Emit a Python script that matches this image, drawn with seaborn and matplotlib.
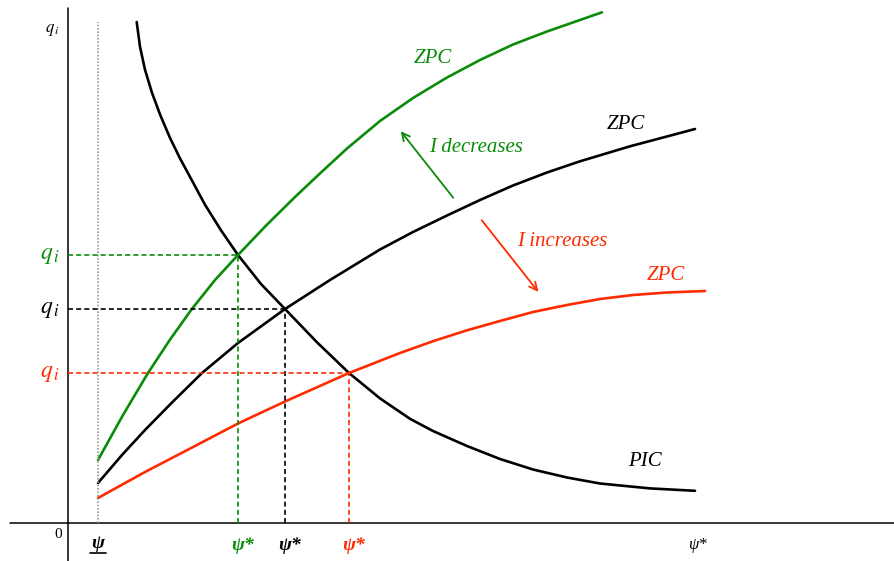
import matplotlib
matplotlib.use("Agg")
import matplotlib.pyplot as plt
import seaborn as sns
import pandas as pd

# Curves of the model (psi on the horizontal axis, q_i on the vertical axis)
pic_psi = [68.7, 72, 77, 84, 92, 102, 112, 124, 137, 153, 170, 193, 217, 249, 281,
           312, 342, 365, 399, 432, 465, 499, 532, 582, 627]
pic_q = [501, 476.3, 453.3, 430.2, 408.6, 385.1, 364.6, 342.4, 318.3, 292.7, 268, 239, 214, 180.7, 150,
         124.6, 104.2, 92, 77, 64, 53.5, 45.5, 39.5, 34.6, 32.2]

zpc_low_psi = [30, 55, 80, 102, 124, 147, 170, 198, 227, 253, 279, 312, 345, 379, 412, 445, 479, 534]
zpc_low_q = [63, 108, 150, 183.4, 214.2, 243, 268, 297.4, 326, 350.5, 374.5, 402, 425, 445.5, 463, 478.5, 491.5, 510.7]

zpc_base_psi = [30, 54, 77, 104, 134, 170, 217, 262, 312, 345, 379, 412, 445, 479, 512, 562, 612, 627]
zpc_base_q = [40, 68, 93, 120.5, 150, 180, 214, 243, 273.5, 291, 307.5, 323, 337.5, 350.5, 361.7, 376.7, 390, 394]

zpc_high_psi = [30, 77, 127, 170, 217, 281, 332, 365, 399, 432, 465, 499, 532, 565, 599, 637]
zpc_high_q = [25, 51, 77, 99.5, 121.5, 150, 170, 181.8, 192.7, 202, 211, 218, 224, 228, 230.5, 232]

# Equilibria: I decreases / baseline / I increases
eq_psi = [170, 217, 281]
eq_q = [268, 214, 150]
psi_min = 30

GREEN = "#0a8c0a"
RED = "#ff2a00"
BLACK = "black"
eq_colors = [GREEN, BLACK, RED]

sns.set_style("white")
plt.rcParams["font.family"] = ["Liberation Serif", "DejaVu Serif"]
plt.rcParams["mathtext.fontset"] = "stix"

fig = plt.figure(figsize=(8.94, 5.61), dpi=100)
ax = fig.add_axes([0, 0, 1, 1])
ax.set_xlim(-68, 826)
ax.set_ylim(-38, 523)
ax.axis("off")

frames = []
for name, xs, ys in [("PIC", pic_psi, pic_q), ("ZPC low", zpc_low_psi, zpc_low_q),
                     ("ZPC base", zpc_base_psi, zpc_base_q), ("ZPC high", zpc_high_psi, zpc_high_q)]:
    frames.append(pd.DataFrame({"psi": xs, "q": ys, "curve": name}))
df = pd.concat(frames, ignore_index=True)
palette = {"PIC": BLACK, "ZPC low": GREEN, "ZPC base": BLACK, "ZPC high": RED}
sns.lineplot(data=df, x="psi", y="q", hue="curve", palette=palette, sort=False,
             estimator=None, linewidth=1.9, legend=False, ax=ax)
for line in ax.get_lines():
    line.set_solid_joinstyle("round")

# axes lines
ax.plot([0, 0], [-38, 515], color="black", lw=1.1)
ax.plot([-58, 826], [0, 0], color="black", lw=1.1)
# lower bound on psi
ax.plot([psi_min, psi_min], [0, 501], color="#999999", lw=1.2, ls=(0, (1, 1)))

# equilibrium guides
for px, qy, c in zip(eq_psi, eq_q, eq_colors):
    ax.plot([0, px], [qy, qy], color=c, lw=1.2, ls=(0, (3, 1.9)))
    ax.plot([px, px], [0, qy], color=c, lw=1.2, ls=(0, (3, 1.9)))
    ax.text(-18, qy, r"$q_{\,i}$", color=c, fontsize=17, ha="center", va="center")
    ax.text(px + 5, -22, "ψ*", color=c, fontsize=14, fontweight="bold", style="italic",
            ha="center", va="center")

ax.text(-16, 493, r"$q_{\,i}$", color="black", fontsize=12, ha="center", va="center")
ax.text(-10, -12, "0", color="black", fontsize=11, ha="center", va="center")
ax.text(psi_min, -20, "ψ", color="black", fontsize=14, fontweight="bold", style="italic",
        ha="center", va="center")
ax.plot([psi_min - 8, psi_min + 8], [-30, -30], color="black", lw=1.2)
ax.text(629, -22, "ψ*", color="black", fontsize=12, style="italic", ha="center", va="center")

# curve labels
ax.text(365, 465, "ZPC", color=GREEN, fontsize=15, style="italic", ha="center", va="center")
ax.text(558, 399, "ZPC", color=BLACK, fontsize=15, style="italic", ha="center", va="center")
ax.text(598, 247, "ZPC", color=RED, fontsize=15, style="italic", ha="center", va="center")
ax.text(577, 61, "PIC", color=BLACK, fontsize=15, style="italic", ha="center", va="center")

# shift arrows
ax.annotate("", xy=(331, 394), xytext=(387, 323),
            arrowprops=dict(arrowstyle="->", color=GREEN, lw=1.3, mutation_scale=14))
ax.text(408, 376, "I decreases", color=GREEN, fontsize=15, style="italic", ha="center", va="center")
ax.annotate("", xy=(472, 229), xytext=(412, 305),
            arrowprops=dict(arrowstyle="->", color=RED, lw=1.3, mutation_scale=14))
ax.text(494, 282, "I increases", color=RED, fontsize=15, style="italic", ha="center", va="center")

fig.savefig("out.png", dpi=100)
